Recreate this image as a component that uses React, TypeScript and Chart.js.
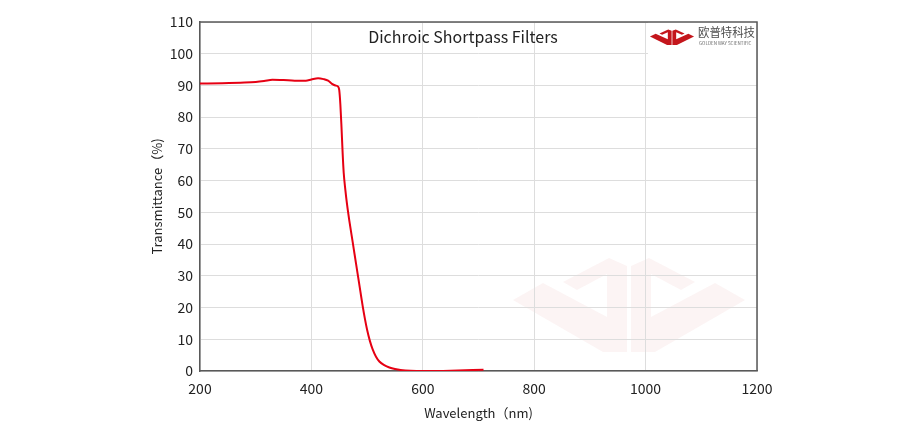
import React, { useEffect, useRef } from "react";
import { Chart, registerables } from "chart.js";

Chart.register(...registerables);

const wavelengths = [200, 240, 280, 300, 315, 330, 350, 370, 390, 400, 412, 422, 430, 437, 443, 448, 450, 452, 454, 456, 458, 461, 464, 468, 472, 476, 480, 484, 488, 492, 496, 500, 505, 510, 516, 522, 530, 540, 550, 560, 600, 650, 709];
const transmittance = [90.6, 90.7, 90.9, 91.1, 91.4, 91.8, 91.7, 91.5, 91.5, 91.9, 92.3, 92.0, 91.5, 90.5, 90.0, 89.6, 88.5, 84, 77, 69, 62.5, 57, 52.5, 47.5, 43, 38.5, 34, 29.5, 25, 20.5, 16.5, 13, 9.5, 6.8, 4.5, 3, 1.9, 1.1, 0.6, 0.3, 0.0, 0.1, 0.4];
const xRange = [200, 1200];
const xStep = 200;
const yRange = [0, 110];
const yStep = 10;

const titleText = "Dichroic Shortpass Filters";
const xTitle = "Wavelength（nm)";
const yTitle = "Transmittance（%)";
const brandCn = "欧普特科技";
const brandEn = "GOLDEN WAY SCIENTIFIC";

const FONT = '"Noto Sans CJK SC", "Noto Sans", sans-serif';

const MARK = [
  [-116, 42], [-86, 25], [-22, 59], [-22, 16], [-52, 32], [-66, 24],
  [-20, 0], [-2, 8], [-2, 94], [-26, 94],
];

function drawMark(ctx: CanvasRenderingContext2D, cx: number, top: number, sx: number, sy: number, color: string) {
  ctx.save();
  ctx.fillStyle = color;
  for (const sign of [1, -1]) {
    ctx.beginPath();
    MARK.forEach(([x, y], i) => {
      const px = cx + sign * x * sx;
      const py = top + y * sy;
      if (i === 0) ctx.moveTo(px, py);
      else ctx.lineTo(px, py);
    });
    ctx.closePath();
    ctx.fill();
  }
  ctx.restore();
}

const decorPlugin = {
  id: "decor",
  beforeDraw(chart: any) {
    const ctx = chart.ctx as CanvasRenderingContext2D;
    drawMark(ctx, 629, 258, 1, 1, "rgba(205, 30, 40, 0.05)");
  },
  afterDraw(chart: any) {
    const ctx = chart.ctx as CanvasRenderingContext2D;
    const a = chart.chartArea;
    ctx.save();
    ctx.fillStyle = "#ffffff";
    ctx.fillRect(648, a.top, a.right - 648, 36);
    ctx.restore();
    drawMark(ctx, 672, 29.5, 0.19, 0.165, "#c4161c");
    ctx.save();
    ctx.fillStyle = "#4d4d4d";
    ctx.font = `12px ${FONT}`;
    ctx.textAlign = "left";
    ctx.textBaseline = "middle";
    ctx.fillText(brandCn, 698, 32, 57);
    ctx.font = `4.5px ${FONT}`;
    ctx.fillStyle = "#666666";
    ctx.fillText(brandEn, 699, 43.5, 55);
    ctx.fillStyle = "#222222";
    ctx.font = `16px ${FONT}`;
    ctx.textAlign = "center";
    ctx.fillText(titleText, 463, 37);
    ctx.strokeStyle = "#595959";
    ctx.lineWidth = 1.5;
    ctx.beginPath();
    ctx.moveTo(a.left, a.top);
    ctx.lineTo(a.right, a.top);
    ctx.lineTo(a.right, a.bottom);
    ctx.stroke();
    ctx.restore();
  },
};

export default function App() {
  const ref = useRef<HTMLCanvasElement | null>(null);
  useEffect(() => {
    if (!ref.current) return;
    const chart = new Chart(ref.current, {
      type: "line",
      data: {
        datasets: [
          {
            data: wavelengths.map((x, i) => ({ x, y: transmittance[i] })),
            borderColor: "#e60013",
            borderWidth: 2,
            pointRadius: 0,
            fill: false,
            cubicInterpolationMode: "monotone",
          },
        ],
      },
      options: {
        responsive: false,
        animation: false,
        devicePixelRatio: 1,
        layout: { padding: { top: 22, right: 167, bottom: 0, left: 0 } },
        plugins: { legend: { display: false }, tooltip: { enabled: false }, title: { display: false } },
        scales: {
          x: {
            type: "linear",
            min: xRange[0],
            max: xRange[1],
            ticks: { stepSize: xStep, padding: 9, color: "#222222", font: { family: FONT, size: 14 }, maxRotation: 0, callback: (v: any) => String(v) },
            grid: { color: "#dddddd", lineWidth: 1, drawTicks: false },
            border: { display: true, color: "#595959", width: 1.5 },
            title: { display: true, text: xTitle, color: "#222222", font: { family: FONT, size: 13 }, padding: { top: 0, bottom: 19 } },
            afterFit: (s: any) => { s.height = 69; },
          },
          y: {
            type: "linear",
            min: yRange[0],
            max: yRange[1],
            ticks: { stepSize: yStep, padding: 7, color: "#222222", font: { family: FONT, size: 14 }, callback: (v: any) => String(v) },
            grid: { color: "#dddddd", lineWidth: 1, drawTicks: false },
            border: { display: true, color: "#595959", width: 1.5 },
            title: { display: true, text: yTitle, color: "#222222", font: { family: FONT, size: 13 }, padding: { top: 149, bottom: 0 } },
            afterFit: (s: any) => { s.width = 200; },
          },
        },
      },
      plugins: [decorPlugin],
    } as any);
    return () => chart.destroy();
  }, []);
  return (
    <div style={{ position: "fixed", left: 0, top: 0, width: 924, height: 440, background: "#fff" }}>
      <canvas ref={ref} width={924} height={440} style={{ width: 924, height: 440, display: "block" }} />
    </div>
  );
}
